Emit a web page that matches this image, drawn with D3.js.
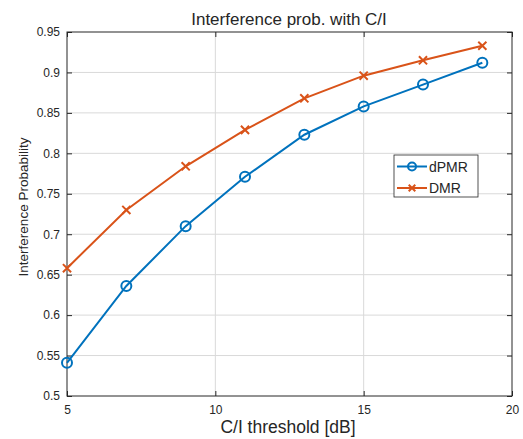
<!DOCTYPE html>
<html>
<head>
<meta charset="UTF-8" />
<script src="https://cdn.jsdelivr.net/npm/d3@7"></script>
<style>
  body { margin: 0; background: #fff; }
  text { font-family: "Liberation Sans", Arial, sans-serif; fill: #262626; }
</style>
</head>
<body>
<div id="app"></div>
<script>
// datos
const umbrales = [5, 7, 9, 11, 13, 15, 17, 19];
const dPMR = [0.541, 0.636, 0.710, 0.771, 0.823, 0.858, 0.885, 0.912];
const DMR = [0.658, 0.730, 0.784, 0.829, 0.868, 0.896, 0.915, 0.933];
const xTicks = [5, 10, 15, 20];
const yTicks = [0.5, 0.55, 0.6, 0.65, 0.7, 0.75, 0.8, 0.85, 0.9, 0.95];

const w = 523, h = 439;
const pLeft = 67, pRight = 512, pTop = 32, pBottom = 396;

const svg = d3.select("#app").append("svg")
  .attr("width", w).attr("height", h);

const xScale = d3.scaleLinear().domain([5, 20]).range([pLeft, pRight]);
const yScale = d3.scaleLinear().domain([0.5, 0.95]).range([pBottom, pTop]);

// grid
svg.append("g").selectAll("line")
  .data(xTicks.slice(1, -1)).enter().append("line")
  .attr("x1", d => xScale(d)).attr("x2", d => xScale(d))
  .attr("y1", pTop).attr("y2", pBottom)
  .attr("stroke", "#d9d9d9").attr("stroke-width", 1);
svg.append("g").selectAll("line")
  .data(yTicks.slice(1, -1)).enter().append("line")
  .attr("x1", pLeft).attr("x2", pRight)
  .attr("y1", d => yScale(d)).attr("y2", d => yScale(d))
  .attr("stroke", "#d9d9d9").attr("stroke-width", 1);

// ejes
const xAxis = d3.axisBottom(xScale).tickValues(xTicks).tickSize(-5).tickPadding(9).tickFormat(d3.format("d"));
const yAxis = d3.axisLeft(yScale).tickValues(yTicks).tickSize(-5).tickPadding(7).tickFormat(d => String(+d.toFixed(2)));

svg.append("g").attr("transform", "translate(0," + pBottom + ")").call(xAxis)
  .call(g => g.select(".domain").remove());
svg.append("g").attr("transform", "translate(" + pLeft + ",0)").call(yAxis)
  .call(g => g.select(".domain").remove());
svg.append("g").attr("transform", "translate(0," + pTop + ")")
  .call(d3.axisTop(xScale).tickValues(xTicks).tickSize(-5).tickFormat(""))
  .call(g => g.select(".domain").remove());
svg.append("g").attr("transform", "translate(" + pRight + ",0)")
  .call(d3.axisRight(yScale).tickValues(yTicks).tickSize(-5).tickFormat(""))
  .call(g => g.select(".domain").remove());

svg.selectAll(".tick line").attr("stroke", "#262626");
svg.selectAll(".tick text").style("font-size", "12px").attr("fill", "#262626")
  .style("font-family", "'Liberation Sans', Arial, sans-serif");

svg.append("rect")
  .attr("x", pLeft).attr("y", pTop)
  .attr("width", pRight - pLeft).attr("height", pBottom - pTop)
  .attr("fill", "none").attr("stroke", "#262626").attr("stroke-width", 1);

// lineas
const line = d3.line().x((d, i) => xScale(umbrales[i])).y(d => yScale(d));

svg.append("path").datum(DMR)
  .attr("d", line).attr("fill", "none")
  .attr("stroke", "#D95319").attr("stroke-width", 2);
svg.append("path").datum(dPMR)
  .attr("d", line).attr("fill", "none")
  .attr("stroke", "#0072BD").attr("stroke-width", 2);

const cruz = d3.symbol().type(d3.symbolX).size(45);
svg.append("g").selectAll("path")
  .data(DMR).enter().append("path")
  .attr("d", cruz)
  .attr("transform", (d, i) => "translate(" + xScale(umbrales[i]) + "," + yScale(d) + ")")
  .attr("fill", "none").attr("stroke", "#D95319").attr("stroke-width", 2);

svg.append("g").selectAll("circle")
  .data(dPMR).enter().append("circle")
  .attr("cx", (d, i) => xScale(umbrales[i]))
  .attr("cy", d => yScale(d))
  .attr("r", 5)
  .attr("fill", "none").attr("stroke", "#0072BD").attr("stroke-width", 2);

// titulos
svg.append("text")
  .attr("x", 289).attr("y", 25)
  .attr("text-anchor", "middle")
  .style("font-size", "17px")
  .text("Interference prob. with C/I");

svg.append("text")
  .attr("x", 288).attr("y", 433)
  .attr("text-anchor", "middle")
  .style("font-size", "17.5px")
  .text("C/I threshold [dB]");

svg.append("text")
  .attr("transform", "translate(28,207) rotate(-90)")
  .attr("text-anchor", "middle")
  .style("font-size", "13.5px")
  .text("Interference Probability");

// leyenda
const leg = svg.append("g");
leg.append("rect")
  .attr("x", 394).attr("y", 155).attr("width", 84).attr("height", 42)
  .attr("fill", "#fff").attr("stroke", "#262626").attr("stroke-width", 0.8);

const series = [
  { name: "dPMR", color: "#0072BD", y: 166.5 },
  { name: "DMR", color: "#D95319", y: 188 }
];
series.forEach(s => {
  leg.append("line")
    .attr("x1", 397).attr("x2", 427).attr("y1", s.y).attr("y2", s.y)
    .attr("stroke", s.color).attr("stroke-width", 2);
  leg.append("text")
    .attr("x", 429).attr("y", s.y + 5)
    .style("font-size", "14px")
    .text(s.name);
});
leg.append("circle")
  .attr("cx", 412).attr("cy", series[0].y).attr("r", 4)
  .attr("fill", "none").attr("stroke", series[0].color).attr("stroke-width", 2);
leg.append("path")
  .attr("d", d3.symbol().type(d3.symbolX).size(30))
  .attr("transform", "translate(412," + series[1].y + ")")
  .attr("fill", "none").attr("stroke", series[1].color).attr("stroke-width", 2);
</script>
</body>
</html>
